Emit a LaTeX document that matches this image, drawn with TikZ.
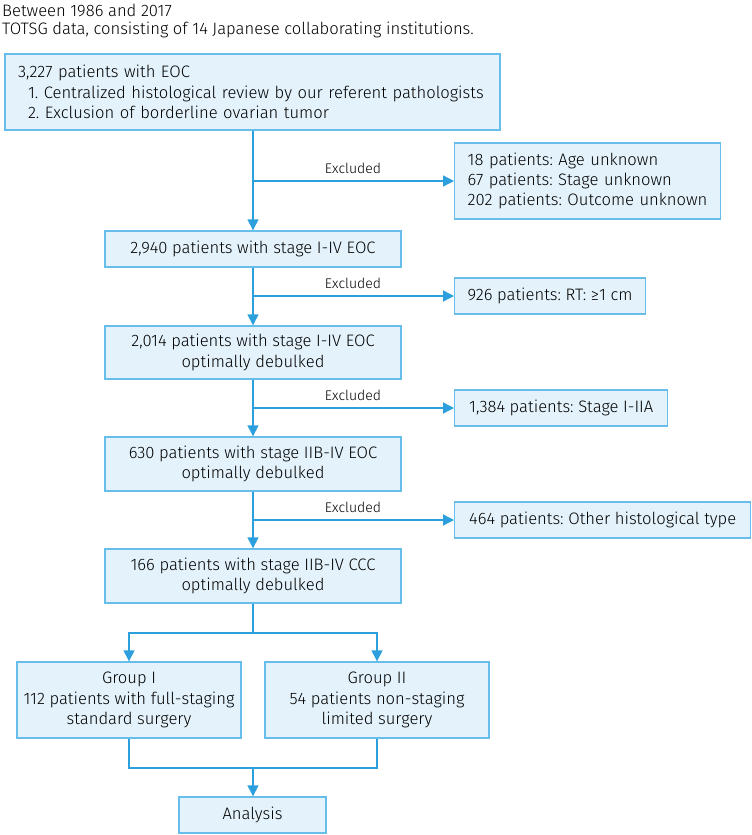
\documentclass[tikz,border=0pt]{standalone}
\usepackage{fontspec}
\setmainfont{Fira Sans}[UprightFont=* Light]
\usetikzlibrary{arrows.meta, positioning, calc}

\definecolor{boxfill}{RGB}{228,243,251}
\definecolor{boxline}{RGB}{104,190,234}
\definecolor{arrline}{RGB}{43,160,220}

\newcommand{\fsmain}{\fontsize{16.6}{20.3}\selectfont}
\newcommand{\fslbl}{\fontsize{14}{16}\selectfont}
\frenchspacing

\begin{document}
\begin{tikzpicture}[x=1pt, y=-1pt,
  box/.style={draw=boxline, fill=boxfill, line width=1.4pt, inner sep=0pt, align=center, font=\fsmain},
  exbox/.style={box, anchor=west, align=left, inner xsep=13pt, minimum height=36pt},
  hdr/.style={anchor=west, inner sep=0pt, font=\fsmain},
  lbl/.style={inner sep=0pt, font=\fslbl},
  conn/.style={draw=arrline, line width=1.4pt},
  arr/.style={conn, -{Triangle[length=11pt, width=11pt]}}]
\useasboundingbox (0,0) rectangle (752,835);

% Header
\node[hdr] (hdra) at (2,10) {Between 1986 and 2017};
\node[hdr] (hdrb) at (2,30) {TOTSG data, consisting of 14 Japanese collaborating institutions.};

% Main column
\node[box, align=left, text width=469pt, inner xsep=13pt, minimum height=76pt] (all) at (252.5,92)
  {3,227 patients with EOC\\
   \hspace*{10pt}1. Centralized histological review by our referent pathologists\\
   \hspace*{10pt}2. Exclusion of borderline ovarian tumor};
\node[box, minimum width=296pt, minimum height=36pt] (st1) at (253,249) {2,940 patients with stage I-IV EOC};
\node[box, minimum width=296pt, minimum height=53pt] (st2) at (253,352.5) {2,014 patients with stage I-IV EOC\\optimally debulked};
\node[box, minimum width=296pt, minimum height=54pt] (st3) at (253,464) {630 patients with stage IIB-IV EOC\\optimally debulked};
\node[box, minimum width=296pt, minimum height=54pt] (st4) at (253,576) {166 patients with stage IIB-IV CCC\\optimally debulked};

% Excluded boxes
\node[exbox, text width=240pt, minimum height=76pt] (ex1) at (454,181)
  {18 patients: Age unknown\\67 patients: Stage unknown\\202 patients: Outcome unknown};
\node[exbox, minimum width=189pt] (ex2) at (454,296) {926 patients: RT: ≥1 cm};
\node[exbox, minimum width=213pt] (ex3) at (454,408) {1,384 patients: Stage I-IIA};
\node[exbox, minimum width=296pt] (ex4) at (454,520) {464 patients: Other histological type};

% Groups
\node[box, minimum width=224pt, minimum height=76pt] (grpa) at (129,700) {Group I\\112 patients with full-staging\\standard surgery};
\node[box, minimum width=224pt, minimum height=76pt] (grpb) at (377,700) {Group II\\54 patients non-staging\\limited surgery};
\node[box, minimum width=147pt, minimum height=36pt] (ana) at (252.5,815) {Analysis};

% Junctions
\coordinate (ja) at (253,181);
\coordinate (jb) at (253,296);
\coordinate (jc) at (253,408);
\coordinate (jd) at (253,520);
\coordinate (split) at (253,633);
\coordinate (merge) at (253,768);

% Flow
\draw[arr] (all.south -| ja) -- (st1.north -| ja);
\draw[arr] (st1.south -| jb) -- (st2.north -| jb);
\draw[arr] (st2.south -| jc) -- (st3.north -| jc);
\draw[arr] (st3.south -| jd) -- (st4.north -| jd);

% Exclusions
\draw[arr] (ja) -- (ex1.west);
\draw[arr] (jb) -- (ex2.west);
\draw[arr] (jc) -- (ex3.west);
\draw[arr] (jd) -- (ex4.west);
\node[lbl] (lbla) at (353,168) {Excluded};
\node[lbl] (lblb) at (353,283) {Excluded};
\node[lbl] (lblc) at (353,395) {Excluded};
\node[lbl] (lbld) at (353,507) {Excluded};

% Split and merge
\draw[conn] (st4.south -| split) -- (split);
\draw[arr] (split) -| (grpa.north);
\draw[arr] (split) -| (grpb.north);
\draw[conn] (grpa.south) |- (merge);
\draw[conn] (grpb.south) |- (merge);
\draw[arr] (merge) -- (ana.north -| merge);
\end{tikzpicture}
\end{document}
